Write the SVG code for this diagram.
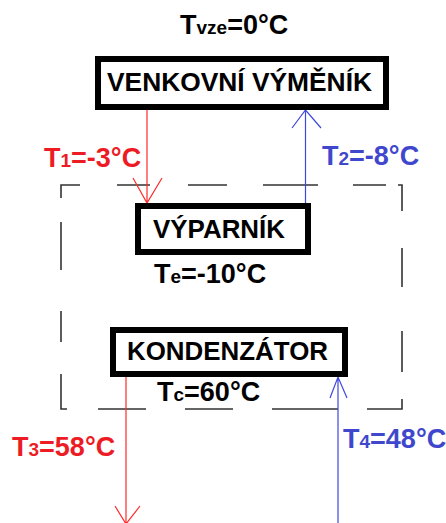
<svg xmlns="http://www.w3.org/2000/svg" width="446" height="523" viewBox="0 0 446 523">
<style>
text{font-family:"Liberation Sans",Arial,sans-serif;font-weight:bold;font-size:27px}
.sub{font-size:19px}
.box{fill:#fff;stroke:#000;stroke-width:6}
.lbl{font-size:26px;fill:#000}
.red{fill:#ed1c24}
.blue{fill:#3f48cc}
.blk{fill:#000}
.rl{stroke:#ff2a2a;stroke-width:1.2;fill:none}
.bl{stroke:#3f48dd;stroke-width:1.2;fill:none}
.dash{stroke:#333;stroke-width:1.6;fill:none}
</style>
<rect width="446" height="523" fill="#fff"/>
<g id="boundary">
<path class="dash" d="M61,198 V185 H80 M117,185 H150 M188,185 H227 M263,185 H318 M353,185 H386 M398,185 H402 V211 M402,248 V287 M402,331 V372 M402,399 V409 H367 M338,409 H272 M233,409 H185 M146,409 H98 M67,409 H61 V374 M61,342 V311 M61,270 V222"/>
</g>
<g id="connectors">
<path class="rl" d="M147,110 V203 M133,178 L147,203 L162,178"/>
<path class="bl" d="M305.5,205 V110 M292,128 L305.5,110 L321,128"/>
<path class="rl" d="M126,377 V523 M115,506 L126,524 L140,506"/>
<path class="bl" d="M338,523 V377 M330,398 L338,377 L347,398"/>
</g>
<g id="tvze"><text x="180" y="34" class="blk">T<tspan class="sub" font-size="20">vze</tspan>=0°C</text></g>
<g id="venkovni">
<rect class="box" x="98" y="59" width="288" height="48"/>
<text class="lbl" x="107" y="91" textLength="265" lengthAdjust="spacingAndGlyphs">VENKOVNÍ VÝMĚNÍK</text>
</g>
<g id="t1"><text x="44" y="167" class="red">T<tspan class="sub">1</tspan>=-3°C</text></g>
<g id="t2"><text x="322" y="165" class="blue">T<tspan class="sub">2</tspan>=-8°C</text></g>
<g id="vyparnik">
<rect class="box" x="138" y="206" width="170" height="46"/>
<text class="lbl" x="153" y="238" textLength="132" lengthAdjust="spacingAndGlyphs">VÝPARNÍK</text>
</g>
<g id="te"><text x="154" y="283" class="blk">T<tspan class="sub">e</tspan>=-10°C</text></g>
<g id="kondenzator">
<rect class="box" x="113" y="330" width="232" height="44"/>
<text class="lbl" x="127" y="360" textLength="201" lengthAdjust="spacingAndGlyphs">KONDENZÁTOR</text>
</g>
<g id="tc"><text x="157" y="401" class="blk">T<tspan class="sub">c</tspan>=60°C</text></g>
<g id="t3"><text x="12" y="456" class="red">T<tspan class="sub">3</tspan>=58°C</text></g>
<g id="t4"><text x="343" y="448" class="blue">T<tspan class="sub">4</tspan>=48°C</text></g>
</svg>
